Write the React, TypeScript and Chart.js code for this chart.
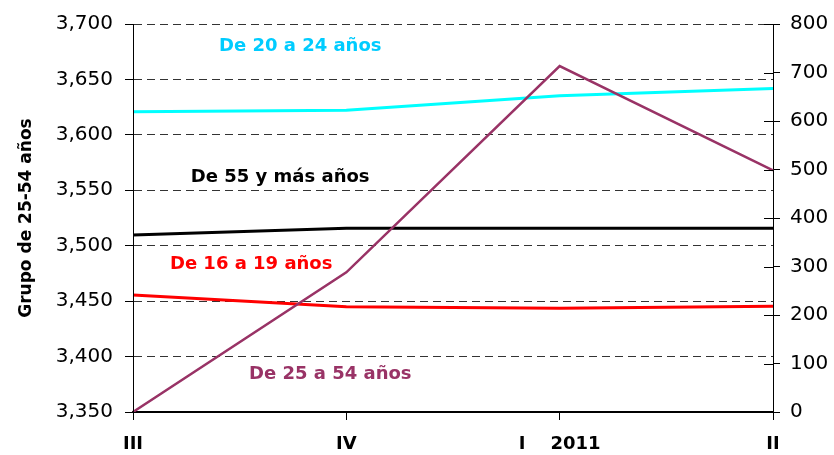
import React, { useEffect, useRef } from "react";
import { Chart, registerables } from "chart.js";

Chart.register(...registerables);

const categories = ["III", "IV", "I    2011", "II"];
const grupo25a54 = [3350, 3476, 3662, 3568];
const de20a24 = [619, 622, 652, 667];
const de55ymas = [365, 379, 379, 379];
const de16a19 = [241, 217, 214, 218];

const leftTicks = [3350, 3400, 3450, 3500, 3550, 3600, 3650, 3700];
const rightTicks = [0, 100, 200, 300, 400, 500, 600, 700, 800];

const labelTexts = ["De 20 a 24 años", "De 55 y más años", "De 16 a 19 años", "De 25 a 54 años"];
const labelColors = ["#00CCFF", "#000000", "#FF0000", "#993366"];
const labelX = [0.784, 0.69, 0.554, 0.925];
const labelY = [3680, 3562, 3483, 3384];

const FONT = "'DejaVu Sans', Verdana, sans-serif";

const annotationPlugin = {
  id: "seriesLabels",
  afterDatasetsDraw(chart: any) {
    const { ctx, scales } = chart;
    const x = scales.x;
    const y = scales.y;
    ctx.save();
    ctx.font = `bold 18px ${FONT}`;
    ctx.textAlign = "center";
    ctx.textBaseline = "middle";
    labelTexts.forEach((t, i) => {
      const i0 = Math.floor(labelX[i]);
      const frac = labelX[i] - i0;
      const px = x.getPixelForValue(i0) + frac * (x.getPixelForValue(i0 + 1) - x.getPixelForValue(i0));
      ctx.fillStyle = labelColors[i];
      ctx.fillText(t, px, y.getPixelForValue(labelY[i]));
    });
    // inner part of right-axis ticks
    const y1 = scales.y1;
    ctx.strokeStyle = "#000";
    ctx.lineWidth = 1;
    ctx.setLineDash([]);
    y1.ticks.forEach((tk: any) => {
      const py = Math.round(y1.getPixelForValue(tk.value)) + 0.5;
      ctx.beginPath();
      ctx.moveTo(y1.left - 9, py);
      ctx.lineTo(y1.left, py);
      ctx.stroke();
    });
    // solid left axis line
    const ya = scales.y;
    const lx = Math.round(ya.right) + 0.5;
    ctx.beginPath();
    ctx.moveTo(lx, chart.chartArea.top);
    ctx.lineTo(lx, chart.chartArea.bottom);
    ctx.stroke();
    ctx.restore();
  },
};

export default function App() {
  const ref = useRef<HTMLCanvasElement>(null);
  useEffect(() => {
    document.body.style.margin = "0";
    const chart = new Chart(ref.current!, {
      type: "line",
      data: {
        labels: categories,
        datasets: [
          { label: "De 25 a 54 años", data: grupo25a54, yAxisID: "y", borderColor: "#993366", borderWidth: 2.5 },
          { label: "De 20 a 24 años", data: de20a24, yAxisID: "y1", borderColor: "#00FFFF", borderWidth: 3 },
          { label: "De 55 y más años", data: de55ymas, yAxisID: "y1", borderColor: "#000000", borderWidth: 3 },
          { label: "De 16 a 19 años", data: de16a19, yAxisID: "y1", borderColor: "#FF0000", borderWidth: 3 },
        ].map((d) => ({ ...d, pointRadius: 0, tension: 0, fill: false })),
      },
      options: {
        animation: false,
        responsive: true,
        maintainAspectRatio: false,
        layout: { padding: { top: 14, left: 0, right: 0, bottom: 0 } },
        plugins: { legend: { display: false }, tooltip: { enabled: false } },
        scales: {
          x: {
            offset: false,
            grid: { drawOnChartArea: false, drawTicks: true, tickLength: 8, color: "#000" },
            border: { display: true, color: "#000", width: 2 },
            ticks: {
              color: "#000",
              font: { family: FONT, size: 18, weight: "bold" },
              maxRotation: 0,
              autoSkip: false,
              padding: 14,
            },
            afterFit: (s: any) => { s.height = 43; },
          },
          y: {
            position: "left",
            min: 3350,
            max: 3700,
            afterBuildTicks: (s: any) => { s.ticks = leftTicks.map((v) => ({ value: v })); },
            ticks: {
              color: "#000",
              font: { family: FONT, size: 20 },
              padding: 12,
              callback: (v: any) => Number(v).toLocaleString("en-US"),
            },
            grid: {
              color: "#333",
              tickBorderDash: [],
              tickColor: "#000",
              tickLength: 8,
              lineWidth: 1,
            },
            border: { display: true, color: "#000", width: 1, dash: [8, 5] },
            title: {
              display: true,
              text: "Grupo de 25-54 años",
              color: "#000",
              font: { family: FONT, size: 17, weight: "bold" },
              padding: { top: 16, bottom: 0 },
            },
            afterFit: (s: any) => { s.width = 133; },
          },
          y1: {
            position: "right",
            min: 0,
            max: 800,
            afterBuildTicks: (s: any) => { s.ticks = rightTicks.map((v) => ({ value: v })); },
            ticks: {
              color: "#000",
              font: { family: FONT, size: 20 },
              padding: 10,
            },
            grid: { drawOnChartArea: false, drawTicks: true, tickLength: 7, color: "#000" },
            border: { display: true, color: "#000", width: 1 },
            afterFit: (s: any) => { s.width = 61; },
          },
        },
      },
      plugins: [annotationPlugin],
    });
    return () => chart.destroy();
  }, []);
  return (
    <div style={{ width: 834, height: 455, position: "relative" }}>
      <canvas ref={ref} />
    </div>
  );
}
